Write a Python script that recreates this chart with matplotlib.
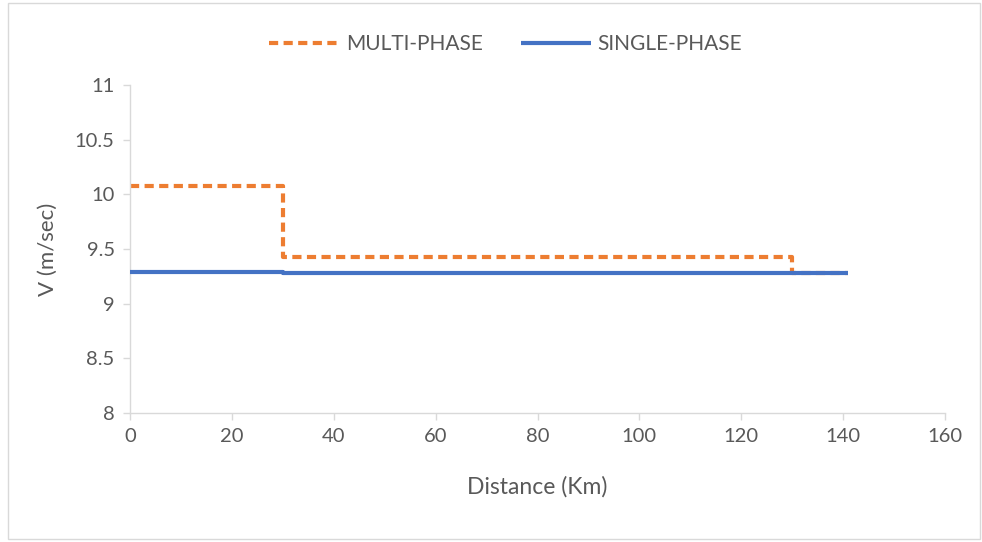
import matplotlib.pyplot as plt

# step profiles along the line (distance in km, velocity in m/s)
multi_x = [0, 30, 30, 130, 130, 141]
multi_v = [10.08, 10.08, 9.43, 9.43, 9.28, 9.28]
single_x = [0, 30, 30, 141]
single_v = [9.29, 9.29, 9.28, 9.28]

x_ticks = [0, 20, 40, 60, 80, 100, 120, 140, 160]
y_ticks = [8, 8.5, 9, 9.5, 10, 10.5, 11]

plt.rcParams['font.family'] = ['Lato', 'DejaVu Sans']
txt = '#595959'
grid = '#d9d9d9'

fig = plt.figure(figsize=(9.82, 5.42), dpi=100)
ax = fig.add_axes([130/982, 1 - 413/542, 815/982, 328/542])

ax.plot(multi_x, multi_v, '--', color='#ed7d31', lw=3, dashes=(2.2, 1.3),
        label='MULTI-PHASE', zorder=2)
ax.plot(single_x, single_v, '-', color='#4472c4', lw=3, solid_capstyle='butt',
        label='SINGLE-PHASE', zorder=3)

ax.set_xlim(0, 160)
ax.set_ylim(8, 11)
ax.set_xticks(x_ticks)
ax.set_yticks(y_ticks)
ax.set_yticklabels(['8', '8.5', '9', '9.5', '10', '10.5', '11'])

for s in ['top', 'right']:
    ax.spines[s].set_visible(False)
for s in ['left', 'bottom']:
    ax.spines[s].set_color(grid)
    ax.spines[s].set_linewidth(1)
ax.tick_params(colors=grid, labelcolor=txt, labelsize=14.5, length=5, width=1)
ax.tick_params(axis='x', pad=6)
ax.tick_params(axis='y', pad=6)

ax.set_xlabel('Distance (Km)', fontsize=16.5, color=txt, labelpad=22)
ax.set_ylabel('V (m/sec)', fontsize=16, color=txt, labelpad=12)

handles, labels = ax.get_legend_handles_labels()
fig.legend(handles, labels, loc='center', bbox_to_anchor=(0.515, 1 - 44/542), ncol=2,
           frameon=False, fontsize=15, labelcolor=txt, handlelength=3.4,
           columnspacing=1.8, handletextpad=0.3)

# light frame around the whole chart
fig.patches.append(plt.Rectangle((0.008, 0.005), 0.99, 0.99, transform=fig.transFigure,
                                 fill=False, edgecolor='#d9d9d9', lw=1))

fig.savefig('out.png', dpi=100)
